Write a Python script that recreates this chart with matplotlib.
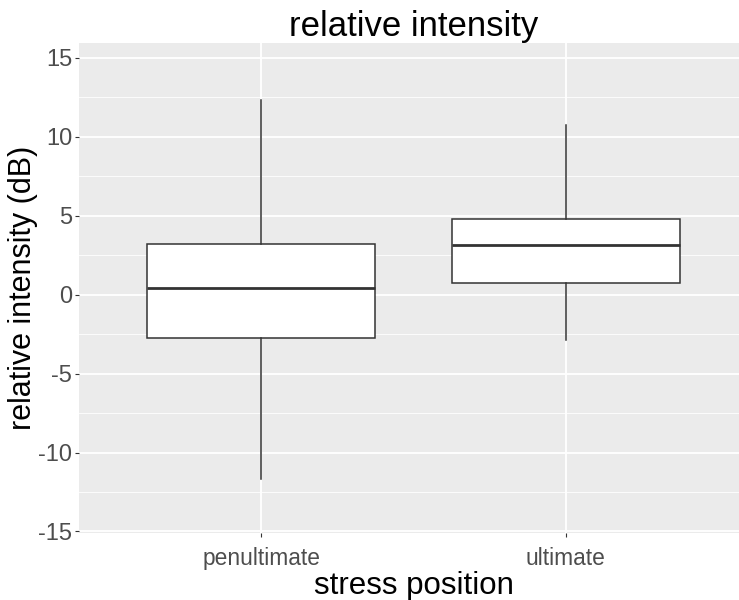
import matplotlib
matplotlib.use("Agg")
import matplotlib.pyplot as plt
from matplotlib.ticker import MultipleLocator

plt.rcParams['font.family'] = ['Liberation Sans', 'DejaVu Sans']

# Box summary per stress position (dB)
categories = ["penultimate", "ultimate"]
whisker_low = [-11.7, -2.85]
q1 = [-2.72, 0.76]
median = [0.44, 3.16]
q3 = [3.23, 4.81]
whisker_high = [12.34, 10.76]

y_ticks = [-15, -10, -5, 0, 5, 10, 15]

fig = plt.figure(figsize=(7.39, 6.0), dpi=100)
W, H = 739, 600
left, right, top, bottom = 79, 748, 43, 533
ax = fig.add_axes([left / W, 1 - bottom / H, (right - left) / W, (bottom - top) / H])
ax.set_facecolor("#EBEBEB")

stats = []
for i, c in enumerate(categories):
    stats.append(dict(label=c, whislo=whisker_low[i], q1=q1[i], med=median[i],
                      q3=q3[i], whishi=whisker_high[i], fliers=[]))

positions = list(range(1, len(categories) + 1))
ax.bxp(stats, positions=positions, widths=0.75, showfliers=False, patch_artist=True,
       boxprops=dict(facecolor="white", edgecolor="#333333", linewidth=1.1),
       medianprops=dict(color="#333333", linewidth=2.0),
       whiskerprops=dict(color="#333333", linewidth=1.1),
       capprops=dict(linewidth=0), zorder=3)

ax.set_xlim(0.4, 2.6)
ax.set_ylim(-15.1, 15.95)
ax.set_yticks(y_ticks)
ax.set_yticklabels([str(t) for t in y_ticks])
ax.yaxis.set_minor_locator(MultipleLocator(2.5))
ax.set_xticks(positions)
ax.set_xticklabels(categories)

ax.grid(which="major", color="white", linewidth=1.3, zorder=0)
ax.grid(which="minor", axis="y", color="white", linewidth=0.6, zorder=0)
ax.set_axisbelow(True)
for s in ax.spines.values():
    s.set_visible(False)

ax.tick_params(axis="both", which="major", length=3, width=0.8, color="#333333",
               labelcolor="#4D4D4D")
ax.tick_params(axis="y", labelsize=17, pad=2)
ax.tick_params(axis="x", labelsize=16.4, pad=7)
ax.tick_params(which="minor", length=0)

ax.set_title("relative intensity", fontsize=25, color="black", pad=5)
ax.set_xlabel("stress position", fontsize=22.5, color="black", labelpad=1)
ax.set_ylabel("relative intensity (dB)", fontsize=22, color="black", labelpad=0)

fig.savefig("out.png", dpi=100)
